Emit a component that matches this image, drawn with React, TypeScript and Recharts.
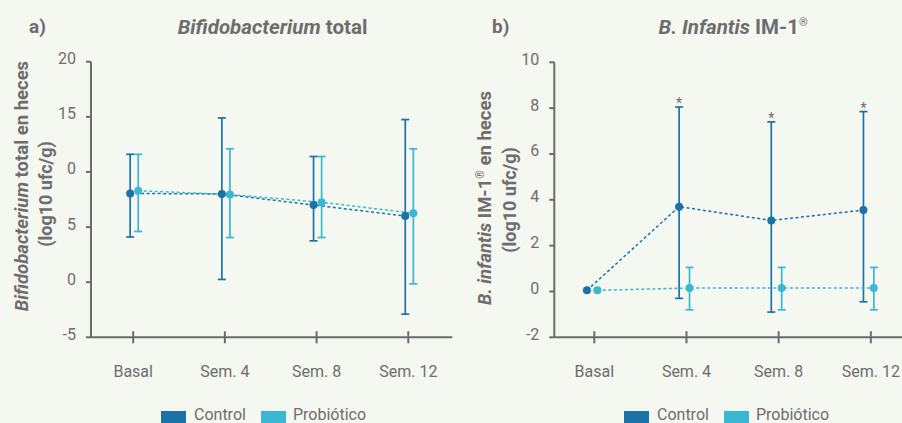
import React from 'react';
import { LineChart, Line, XAxis, YAxis, ErrorBar } from 'recharts';

// ---------- data ----------
const categories = ['Basal', 'Sem. 4', 'Sem. 8', 'Sem. 12'];
const seriesNames = ['Control', 'Probiótico'];

// a) Bifidobacterium total
const totalControl = [8.05, 8.0, 7.0, 6.0];
const totalControlLow = [4.1, 0.25, 3.75, -2.9];
const totalControlHigh = [11.6, 14.9, 11.4, 14.75];
const totalProbiotic = [8.3, 7.95, 7.25, 6.25];
const totalProbioticLow = [4.6, 4.05, 4.05, -0.15];
const totalProbioticHigh = [11.6, 12.1, 11.4, 12.1];
const totalTicks = [-5, 0, 5, 10, 15, 20];
const totalTickLabels = ['-5', '0', '5', '0', '15', '20'];

// b) B. infantis IM-1
const infantisControl = [0.05, 3.7, 3.1, 3.55];
const infantisControlLow = [null, -0.3, -0.9, -0.45];
const infantisControlHigh = [null, 8.05, 7.4, 7.85];
const infantisProbiotic = [0.05, 0.15, 0.15, 0.15];
const infantisProbioticLow = [null, -0.8, -0.8, -0.8];
const infantisProbioticHigh = [null, 1.05, 1.05, 1.05];
const infantisSignificance = ['', '*', '*', '*'];
const infantisTicks = [-2, 0, 2, 4, 6, 8, 10];
const infantisTickLabels = ['-2', '0', '2', '4', '6', '8', '10'];

// ---------- styles ----------
const CTRL = '#1a72a8';
const PROB = '#3ab7d2';
const TEXT = '#6d6d6d';
const AXIS = '#6b6b6b';
const BG = '#f5f7f1';
const FONT = 'Roboto, "Noto Sans", sans-serif';

type Pt = { x: number; y: number; err: number[] | null; hi: number | null; sig: string };

function build(values: number[], low: (number | null)[], high: (number | null)[], shift: number, sig?: string[]): Pt[] {
  return values.map((v, i) => ({
    x: i + shift,
    y: v,
    err: low[i] == null || high[i] == null ? null : [v - (low[i] as number), (high[i] as number) - v],
    hi: high[i],
    sig: sig ? sig[i] : '',
  }));
}

const XTick = (props: any) => {
  const { x, y, payload } = props;
  const label = categories[Math.round(payload.value)] ?? '';
  return (
    <g>
      <line x1={x} x2={x} y1={y - 6} y2={y + 6} stroke={AXIS} strokeWidth={2} />
      <text x={x} y={y + 40} textAnchor="middle" fill={TEXT} fontSize={16} fontFamily={FONT}>
        {label}
      </text>
    </g>
  );
};

const makeYTick = (ticks: number[], labels: string[]) => (props: any) => {
  const { x, y, payload } = props;
  const idx = ticks.indexOf(payload.value);
  return (
    <g>
      <line x1={x - 5} x2={x} y1={y} y2={y} stroke={AXIS} strokeWidth={2} />
      <text x={x - 15} y={y + 2.5} textAnchor="end" fill={TEXT} fontSize={16} fontFamily={FONT}>
        {idx >= 0 ? labels[idx] : ''}
      </text>
    </g>
  );
};

type PanelProps = {
  left: number;
  width: number;
  yWidth: number;
  marginTop: number;
  marginRight: number;
  xDomain: [number, number];
  yDomain: [number, number];
  yTicks: number[];
  yLabels: string[];
  control: Pt[];
  probiotic: Pt[];
  showSig?: boolean;
};

function Panel(p: PanelProps) {
  const ctrlErr = p.control.filter((d) => d.err);
  const probErr = p.probiotic.filter((d) => d.err);
  const sigPts = p.control.filter((d) => d.sig);
  return (
    <div style={{ position: 'absolute', left: p.left, top: 0 }}>
      <LineChart
        width={p.width}
        height={423}
        margin={{ top: p.marginTop, right: p.marginRight, bottom: 25.7, left: 0 }}
      >
        <XAxis
          type="number"
          dataKey="x"
          domain={p.xDomain}
          allowDataOverflow
          ticks={[0, 1, 2, 3]}
          tickSize={0}
          tickMargin={0}
          tickLine={false}
          tick={XTick}
          height={60}
          axisLine={{ stroke: AXIS, strokeWidth: 2 }}
        />
        <YAxis
          type="number"
          domain={p.yDomain}
          allowDataOverflow
          ticks={p.yTicks}
          tickSize={0}
          tickMargin={0}
          tickLine={false}
          tick={makeYTick(p.yTicks, p.yLabels)}
          width={p.yWidth}
          axisLine={{ stroke: AXIS, strokeWidth: 2 }}
        />
        <Line
          data={ctrlErr}
          dataKey="y"
          stroke="none"
          dot={false}
          activeDot={false}
          isAnimationActive={false}
          legendType="none"
        >
          <ErrorBar dataKey="err" direction="y" width={4} stroke={CTRL} strokeWidth={1.7} isAnimationActive={false} />
        </Line>
        <Line
          data={p.control}
          dataKey="y"
          name={seriesNames[0]}
          stroke={CTRL}
          strokeWidth={1.5}
          strokeDasharray="3 2.5"
          dot={{ r: 4, fill: CTRL, stroke: CTRL, strokeWidth: 0 }}
          activeDot={false}
          isAnimationActive={false}
        />
        <Line
          data={probErr}
          dataKey="y"
          stroke="none"
          dot={false}
          activeDot={false}
          isAnimationActive={false}
          legendType="none"
        >
          <ErrorBar dataKey="err" direction="y" width={4} stroke={PROB} strokeWidth={1.7} isAnimationActive={false} />
        </Line>
        <Line
          data={p.probiotic}
          dataKey="y"
          name={seriesNames[1]}
          stroke={PROB}
          strokeWidth={1.5}
          strokeDasharray="3 2.5"
          dot={{ r: 4, fill: PROB, stroke: PROB, strokeWidth: 0 }}
          activeDot={false}
          isAnimationActive={false}
        />
        {p.showSig && (
          <Line
            data={sigPts}
            dataKey="hi"
            stroke="none"
            activeDot={false}
            isAnimationActive={false}
            legendType="none"
            dot={(d: any) => (
              <text
                key={`sig-${d.index}`}
                x={d.cx}
                y={d.cy + 1}
                textAnchor="middle"
                fill={TEXT}
                fontSize={14}
                fontFamily={FONT}
              >
                {d.payload.sig}
              </text>
            )}
          />
        )}
      </LineChart>
    </div>
  );
}

function LegendItems({ x }: { x: number }) {
  return (
    <g>
      <rect x={x} y={411} width={25} height={12} fill={CTRL} />
      <text x={x + 33} y={420} fill={TEXT} fontSize={16} fontFamily={FONT}>
        {seriesNames[0]}
      </text>
      <rect x={x + 100} y={411} width={25} height={12} fill={PROB} />
      <text x={x + 132} y={420} fill={TEXT} fontSize={16} fontFamily={FONT}>
        {seriesNames[1]}
      </text>
    </g>
  );
}

export default function App() {
  const aControl = build(totalControl, totalControlLow, totalControlHigh, -0.033);
  const aProb = build(totalProbiotic, totalProbioticLow, totalProbioticHigh, 0.055);
  const bControl = build(infantisControl, infantisControlLow, infantisControlHigh, -0.08, infantisSignificance);
  const bProb = build(infantisProbiotic, infantisProbioticLow, infantisProbioticHigh, 0.033);

  return (
    <div
      style={{
        position: 'absolute',
        left: 0,
        top: 0,
        width: 902,
        height: 423,
        overflow: 'hidden',
        background: BG,
        fontFamily: FONT,
      }}
    >
      <Panel
        left={0}
        width={460}
        yWidth={91}
        marginTop={61.7}
        marginRight={7.7}
        xDomain={[-0.46, 3.48]}
        yDomain={[-5, 20]}
        yTicks={totalTicks}
        yLabels={totalTickLabels}
        control={aControl}
        probiotic={aProb}
      />
      <Panel
        left={450}
        width={473}
        yWidth={104.3}
        marginTop={62.3}
        marginRight={0}
        xDomain={[-0.434, 3.566]}
        yDomain={[-2, 10]}
        yTicks={infantisTicks}
        yLabels={infantisTickLabels}
        control={bControl}
        probiotic={bProb}
        showSig
      />
      <svg
        width={902}
        height={423}
        style={{ position: 'absolute', left: 0, top: 0, pointerEvents: 'none' }}
      >
        {/* panel a titles */}
        <text x={29} y={33} fill={TEXT} fontSize={19} fontWeight={700} fontFamily={FONT}>
          a)
        </text>
        <text x={272.5} y={34} textAnchor="middle" fill={TEXT} fontSize={20.5} fontWeight={700} fontFamily={FONT}>
          <tspan fontStyle="italic">Bifidobacterium</tspan>
          <tspan> total</tspan>
        </text>
        <text
          x={28}
          y={186}
          transform="rotate(-90 28 186)"
          textAnchor="middle"
          fill={TEXT}
          fontSize={18.5}
          fontWeight={700}
          fontFamily={FONT}
        >
          <tspan fontStyle="italic">Bifidobacterium</tspan>
          <tspan> total en heces</tspan>
        </text>
        <text
          x={52}
          y={194}
          transform="rotate(-90 52 194)"
          textAnchor="middle"
          fill={TEXT}
          fontSize={18}
          fontWeight={700}
          fontFamily={FONT}
        >
          (log10 ufc/g)
        </text>

        {/* panel b titles */}
        <text x={492} y={33} fill={TEXT} fontSize={19} fontWeight={700} fontFamily={FONT}>
          b)
        </text>
        <text x={733} y={34} textAnchor="middle" fill={TEXT} fontSize={20.5} fontWeight={700} fontFamily={FONT}>
          <tspan fontStyle="italic">B. Infantis</tspan>
          <tspan> IM-1</tspan>
          <tspan fontSize={11} fontWeight={400} dy={-8}>®</tspan>
        </text>
        <text
          x={491}
          y={198}
          transform="rotate(-90 491 198)"
          textAnchor="middle"
          fill={TEXT}
          fontSize={18.5}
          fontWeight={700}
          fontFamily={FONT}
        >
          <tspan fontStyle="italic">B. infantis</tspan>
          <tspan> IM-1</tspan>
          <tspan fontSize={11} fontWeight={400} dy={-7}>®</tspan>
          <tspan dy={7}> en heces</tspan>
        </text>
        <text
          x={516}
          y={200}
          transform="rotate(-90 516 200)"
          textAnchor="middle"
          fill={TEXT}
          fontSize={18}
          fontWeight={700}
          fontFamily={FONT}
        >
          (log10 ufc/g)
        </text>

        <LegendItems x={161} />
        <LegendItems x={624} />
      </svg>
    </div>
  );
}
